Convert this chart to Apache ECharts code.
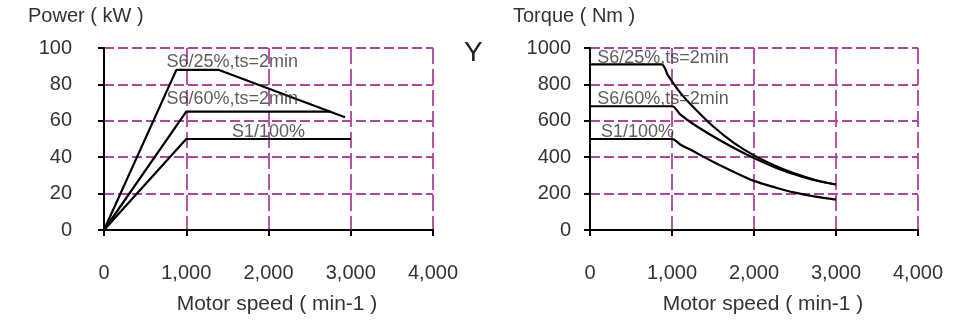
<!DOCTYPE html>
<html>
<head>
<meta charset="utf-8">
<script src="https://cdn.jsdelivr.net/npm/echarts@6/dist/echarts.min.js"></script>
<style>
  html, body { margin: 0; padding: 0; background: #fff; }
  #chart { width: 958px; height: 321px; }
</style>
</head>
<body>
<div id="chart"></div>
<script>
// Motor speed ticks (min-1)
const speedTicks = [0, 1000, 2000, 3000, 4000];

// Power curves (kW) vs motor speed
const powerS6_25Speed = [0, 880, 1390, 2930];
const powerS6_25Value = [0, 88, 88, 62];
const powerS6_60Speed = [0, 1000, 2760];
const powerS6_60Value = [0, 65, 65];
const powerS1Speed = [0, 1000, 3000];
const powerS1Value = [0, 50, 50];

// Torque curves (Nm) vs motor speed
const torqueS6_25Speed = [0, 870, 950, 1100, 1250, 1500, 1750, 2000, 2250, 2500, 2750, 3000];
const torqueS6_25Value = [910, 910, 850, 755, 680, 570, 480, 410, 355, 310, 275, 250];
const torqueS6_60Speed = [0, 1000, 1100, 1250, 1500, 1750, 2000, 2250, 2500, 2750, 3000];
const torqueS6_60Value = [680, 680, 635, 585, 515, 452, 395, 345, 305, 272, 250];
const torqueS1Speed = [0, 1000, 1100, 1250, 1500, 1750, 2000, 2250, 2500, 2750, 3000];
const torqueS1Value = [500, 500, 470, 435, 375, 320, 270, 235, 205, 183, 167];

// Curve names and where they are written (data coordinates)
const dutyNames = ['S6/25%,ts=2min', 'S6/60%,ts=2min', 'S1/100%'];
const powerLabelAt = [[1560, 92.5], [1560, 72], [2000, 54]];
const torqueLabelAt = [[890, 945], [890, 720], [580, 540]];

const pair = (xs, ys) => xs.map((x, i) => [x, ys[i]]);

const FONT = '"Liberation Sans", Arial, sans-serif';
const TXT = '#333';
const GRIDC = '#b0449f';

function valueAxis(idx, dash, extra) {
  return Object.assign({
    type: 'value',
    gridIndex: idx,
    axisLine: { show: true, onZero: false, lineStyle: { color: '#000', width: 2 } },
    axisTick: { show: true, length: 6, lineStyle: { color: '#000', width: 2 } },
    splitLine: { show: true, lineStyle: { color: GRIDC, width: 1.8, type: dash } }
  }, extra);
}

function curve(name, xi, data, smooth) {
  return {
    name, type: 'line', xAxisIndex: xi, yAxisIndex: xi,
    data, showSymbol: false, symbol: 'none',
    smooth: smooth ? 0.3 : false,
    lineStyle: { color: '#000', width: 2.2 },
    z: 5, silent: true
  };
}

function labels(xi, at) {
  return {
    type: 'scatter', xAxisIndex: xi, yAxisIndex: xi,
    symbolSize: 0, silent: true, z: 6,
    data: at.map((p, i) => ({ value: p, name: dutyNames[i] })),
    label: {
      show: true, position: 'inside', formatter: '{b}',
      color: TXT, fontFamily: FONT, fontSize: 18
    }
  };
}

const xLabel = { color: TXT, fontFamily: FONT, fontSize: 20, margin: 33,
  formatter: v => v.toLocaleString('en-US') };

const option = {
  backgroundColor: '#fff',
  animation: false,
  grid: [
    { left: 104, top: 48, width: 329, height: 182 },
    { left: 590, top: 48, width: 328, height: 182 }
  ],
  xAxis: [
    valueAxis(0, [16, 5], { min: speedTicks[0], max: speedTicks[4], interval: 1000, axisLabel: xLabel }),
    valueAxis(1, [16, 5], { min: speedTicks[0], max: speedTicks[4], interval: 1000, axisLabel: xLabel })
  ],
  yAxis: [
    valueAxis(0, [10, 4], { min: 0, max: 100, interval: 20,
      axisLabel: { color: TXT, fontFamily: FONT, fontSize: 20, margin: 32 } }),
    valueAxis(1, [10, 4], { min: 0, max: 1000, interval: 200,
      axisLabel: { color: TXT, fontFamily: FONT, fontSize: 20, margin: 19, formatter: v => String(v) } })
  ],
  graphic: [
    { type: 'text', left: 28, top: 6, style: { text: 'Power ( kW )', font: '20px ' + FONT, fill: TXT } },
    { type: 'text', left: 513, top: 6, style: { text: 'Torque ( Nm )', font: '20px ' + FONT, fill: TXT } },
    { type: 'text', left: 464, top: 39, style: { text: 'Y', font: '28px ' + FONT, fill: '#222' } },
    { type: 'text', x: 277, y: 304, style: { text: 'Motor speed ( min-1 )', font: '21px ' + FONT, fill: TXT, align: 'center', verticalAlign: 'middle' } },
    { type: 'text', x: 763, y: 304, style: { text: 'Motor speed ( min-1 )', font: '21px ' + FONT, fill: TXT, align: 'center', verticalAlign: 'middle' } }
  ],
  series: [
    curve(dutyNames[0], 0, pair(powerS6_25Speed, powerS6_25Value), false),
    curve(dutyNames[1], 0, pair(powerS6_60Speed, powerS6_60Value), false),
    curve(dutyNames[2], 0, pair(powerS1Speed, powerS1Value), false),
    curve(dutyNames[0], 1, pair(torqueS6_25Speed, torqueS6_25Value), true),
    curve(dutyNames[1], 1, pair(torqueS6_60Speed, torqueS6_60Value), true),
    curve(dutyNames[2], 1, pair(torqueS1Speed, torqueS1Value), true),
    labels(0, powerLabelAt),
    labels(1, torqueLabelAt)
  ]
};

const chart = echarts.init(document.getElementById('chart'), null, { renderer: 'canvas' });
chart.setOption(option);
</script>
</body>
</html>
